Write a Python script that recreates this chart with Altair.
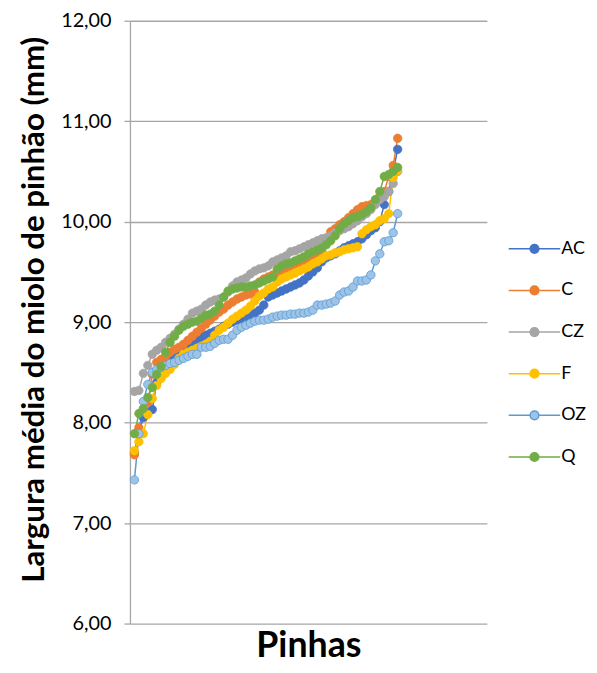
import altair as alt
import pandas as pd

series_names = ["AC", "C", "CZ", "F", "OZ", "Q"]

AC = [7.70, 7.90, 8.05, 8.10, 8.13, 8.40, 8.55, 8.62, 8.66, 8.69,
      8.72, 8.75, 8.78, 8.80, 8.83, 8.85, 8.87, 8.89, 8.91, 8.93,
      8.96, 8.98, 9.00, 9.02, 9.03, 9.04, 9.06, 9.09, 9.12, 9.17,
      9.25, 9.27, 9.29, 9.31, 9.33, 9.35, 9.37, 9.39, 9.42, 9.46,
      9.50, 9.54, 9.60, 9.64, 9.66, 9.68, 9.71, 9.74, 9.76, 9.78,
      9.80, 9.83, 9.87, 9.91, 9.94, 10.00, 10.17, 10.30, 10.50, 10.72]

C = [7.68, 7.95, 8.12, 8.20, 8.48, 8.60, 8.63, 8.66, 8.70, 8.73,
     8.75, 8.78, 8.82, 8.86, 8.90, 8.94, 8.98, 9.02, 9.06, 9.10,
     9.13, 9.17, 9.20, 9.23, 9.25, 9.27, 9.28, 9.30, 9.40, 9.43,
     9.45, 9.47, 9.49, 9.51, 9.52, 9.54, 9.56, 9.58, 9.61, 9.64,
     9.67, 9.69, 9.71, 9.80, 9.90, 9.93, 9.97, 10.00, 10.04, 10.08,
     10.12, 10.15, 10.16, 10.17, 10.20, 10.25, 10.30, 10.45, 10.56, 10.83]

CZ = [8.31, 8.32, 8.49, 8.57, 8.68, 8.72, 8.75, 8.80, 8.84, 8.88,
      8.93, 8.98, 9.03, 9.09, 9.11, 9.13, 9.17, 9.20, 9.22, 9.23,
      9.25, 9.30, 9.36, 9.40, 9.42, 9.44, 9.48, 9.51, 9.53, 9.54,
      9.56, 9.60, 9.62, 9.64, 9.66, 9.70, 9.71, 9.73, 9.75, 9.77,
      9.79, 9.81, 9.83, 9.84, 9.86, 9.89, 9.91, 9.93, 9.95, 9.98,
      10.01, 10.05, 10.08, 10.12, 10.17, 10.22, 10.25, 10.30, 10.38, 10.50]

F = [7.72, 7.81, 7.89, 8.08, 8.24, 8.37, 8.44, 8.49, 8.53, 8.58,
     8.64, 8.68, 8.70, 8.72, 8.74, 8.76, 8.78, 8.81, 8.87, 8.92,
     8.95, 8.99, 9.03, 9.06, 9.09, 9.12, 9.16, 9.21, 9.26, 9.29,
     9.33, 9.35, 9.40, 9.43, 9.45, 9.47, 9.49, 9.51, 9.53, 9.55,
     9.58, 9.60, 9.63, 9.66, 9.67, 9.69, 9.70, 9.72, 9.73, 9.74,
     9.75, 9.88, 9.92, 9.95, 9.97, 10.01, 10.03, 10.08, 10.44, 10.51]

OZ = [7.43, 7.89, 8.21, 8.38, 8.50, 8.53, 8.55, 8.57, 8.59, 8.60,
      8.62, 8.64, 8.66, 8.68, 8.68, 8.75, 8.75, 8.76, 8.79, 8.82,
      8.83, 8.83, 8.87, 8.92, 8.95, 8.97, 8.99, 9.01, 9.02, 9.02,
      9.03, 9.05, 9.06, 9.07, 9.07, 9.08, 9.08, 9.09, 9.09, 9.10,
      9.12, 9.17, 9.17, 9.18, 9.19, 9.21, 9.27, 9.30, 9.31, 9.35,
      9.41, 9.41, 9.42, 9.47, 9.61, 9.68, 9.80, 9.81, 9.89, 10.08]

Q = [7.89, 8.09, 8.14, 8.25, 8.35, 8.48, 8.56, 8.70, 8.80, 8.86,
     8.92, 8.96, 8.98, 9.00, 9.01, 9.04, 9.07, 9.08, 9.11, 9.17,
     9.25, 9.31, 9.33, 9.34, 9.35, 9.35, 9.36, 9.37, 9.39, 9.41,
     9.43, 9.45, 9.53, 9.56, 9.58, 9.59, 9.61, 9.63, 9.65, 9.68,
     9.70, 9.72, 9.74, 9.77, 9.81, 9.86, 9.93, 9.98, 10.01, 10.04,
     10.05, 10.07, 10.10, 10.14, 10.22, 10.30, 10.45, 10.47, 10.50, 10.54]

y_ticks = [6, 7, 8, 9, 10, 11, 12]

stroke_colors = ["#4472C4", "#ED7D31", "#A5A5A5", "#FFC000", "#5B9BD5", "#70AD47"]
fill_colors = ["#4472C4", "#ED7D31", "#A5A5A5", "#FFC000", "#9DC3E6", "#70AD47"]

rows = []
for name, vals in zip(series_names, [AC, C, CZ, F, OZ, Q]):
    for i, v in enumerate(vals, start=1):
        rows.append({"serie": name, "pinha": i, "valor": v})
df = pd.DataFrame(rows)

FONT = "Lato"
GRID = "#A6A6A6"

legend_symbol = "M-6.5,0H-1.1M1.1,0H6.5M1.1,0A1.1,1.1,0,1,1,-1.1,0A1.1,1.1,0,1,1,1.1,0Z"

def make_legend():
    return alt.Legend(
        title=None, orient="none", legendX=399, legendY=221,
        symbolType=legend_symbol, symbolSize=64, symbolStrokeWidth=1.5,
        symbolOpacity=1, labelFontSize=18, labelFont=FONT, labelColor="#000000",
        labelOffset=18, rowPadding=24,
    )

x_enc = alt.X("pinha:Q", scale=alt.Scale(domain=[0, 80], nice=False, zero=False),
              axis=alt.Axis(title="Pinhas", labels=False, ticks=False, domain=False, grid=False,
                            titleFont=FONT, titleFontSize=36, titleFontWeight="bold",
                            titleColor="#000000", titleY=33, titleBaseline="alphabetic"))

y_enc = alt.Y("valor:Q", scale=alt.Scale(domain=[6, 12], nice=False, zero=False),
              axis=alt.Axis(values=y_ticks,
                            labelExpr="replace(format(datum.value, '.2f'), '.', ',')",
                            title="Largura média do miolo de pinhão (mm)",
                            titleFont=FONT, titleFontSize=31.5, titleFontWeight="bold",
                            titleColor="#000000", titleAngle=270, titleX=-96, titleY=291,
                            titleAlign="center", titleBaseline="middle",
                            labelFont=FONT, labelFontSize=20, labelColor="#000000",
                            labelPadding=13, tickSize=6, tickColor=GRID, tickWidth=1.3,
                            domainColor=GRID, domainWidth=1.3,
                            gridColor=GRID, gridWidth=1.3))

stroke_enc = alt.Stroke("serie:N", scale=alt.Scale(domain=series_names, range=stroke_colors),
                        legend=make_legend())
fill_enc = alt.Fill("serie:N", scale=alt.Scale(domain=series_names, range=fill_colors),
                    legend=make_legend())

lines = alt.Chart(df).mark_line(strokeWidth=1.5).encode(
    x=x_enc, y=y_enc, stroke=stroke_enc, order="pinha:Q"
)
points = alt.Chart(df).mark_point(filled=True, size=72, strokeWidth=0.8, opacity=1).encode(
    x=x_enc, y=y_enc, stroke=stroke_enc, fill=fill_enc
)

chart = alt.layer(lines, points).properties(
    width=360, height=608,
    autosize=alt.AutoSizeParams(type="none"),
    padding={"left": 123, "top": 10, "right": 103, "bottom": 45},
    background="white",
).configure_view(stroke=None)

chart.save("out.html", embed_options={"renderer": "svg", "actions": False})
